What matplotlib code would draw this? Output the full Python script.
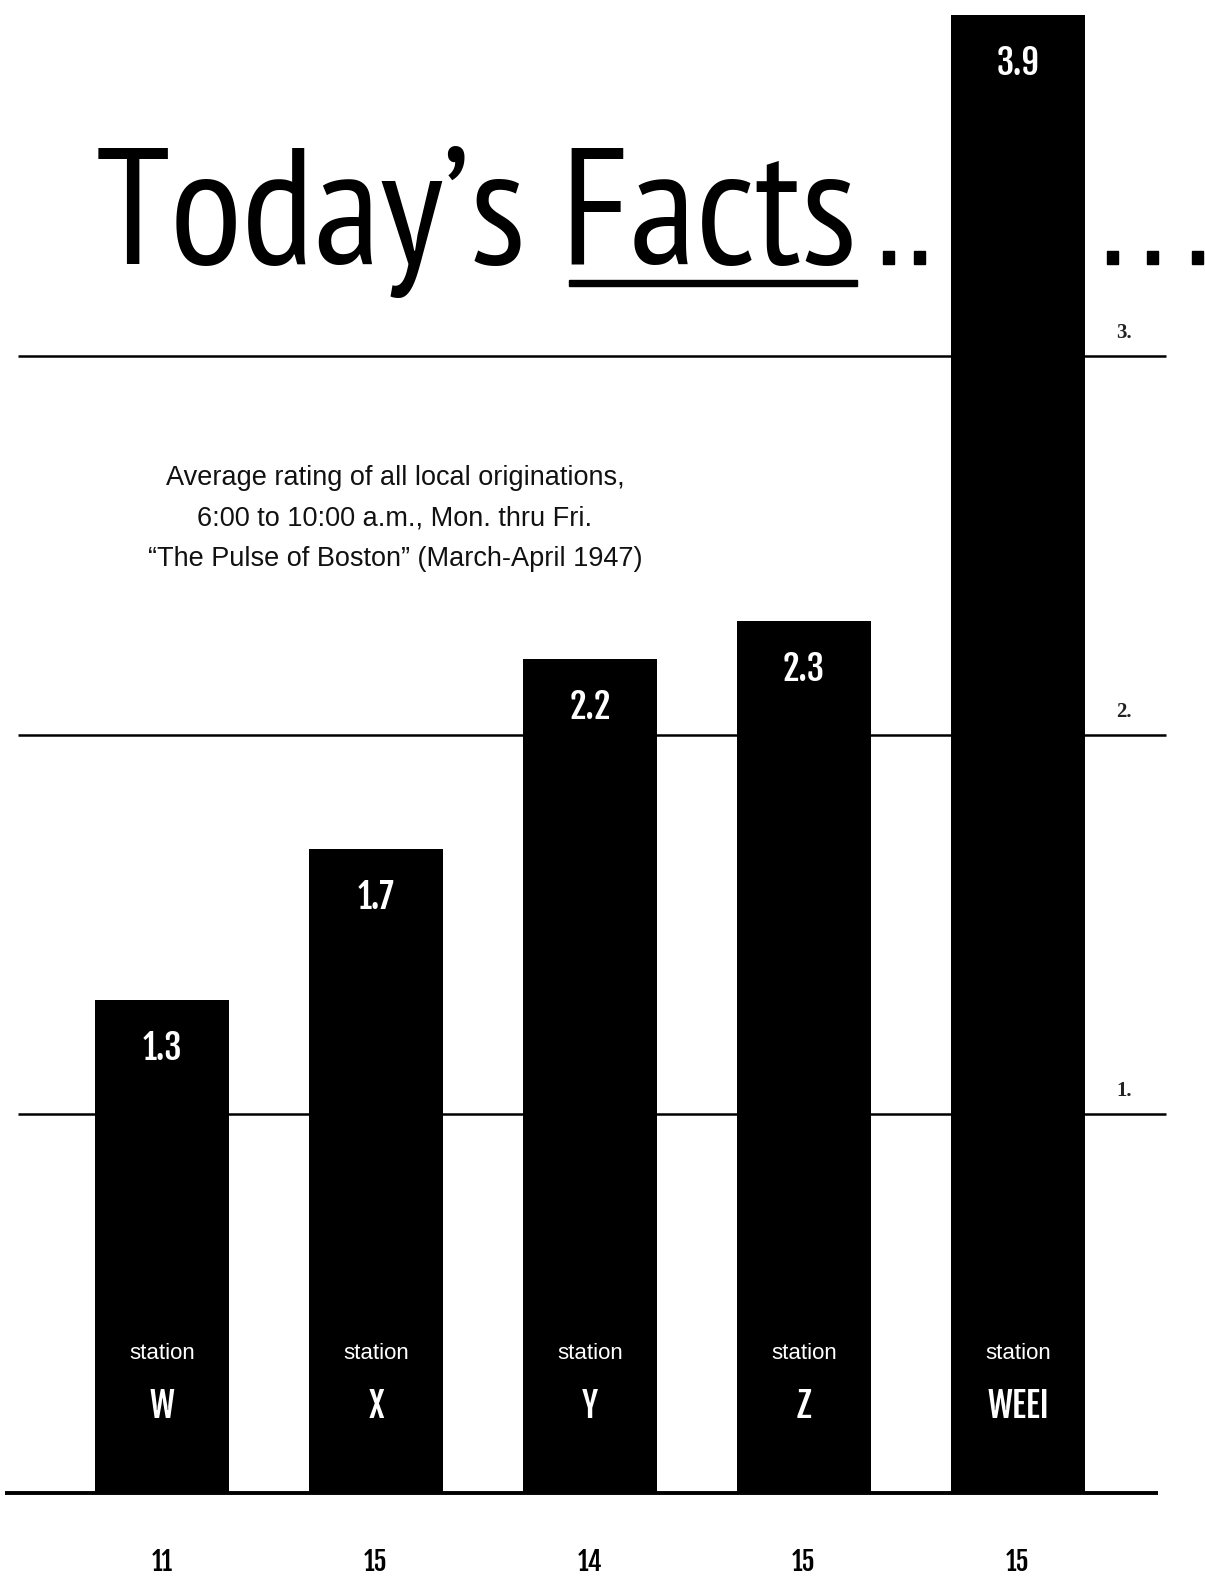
import matplotlib
matplotlib.use('Agg')
import matplotlib.pyplot as plt
from matplotlib.patches import Rectangle

# data
stations = ['W', 'X', 'Y', 'Z', 'WEEI']
ratings = [1.3, 1.7, 2.2, 2.3, 3.9]
value_labels = ['1.3', '1.7', '2.2', '2.3', '3.9']
bottom_counts = ['11', '15', '14', '15', '15']
grid_values = [1, 2, 3]
grid_labels = ['1.', '2.', '3.']
subtitle_lines = ['Average rating of all local originations,',
                  '6:00 to 10:00 a.m., Mon. thru Fri.',
                  '\u201cThe Pulse of Boston\u201d (March-April 1947)']

W, H = 1205, 1580
TITLE = ['PT Sans Narrow', 'Roboto Condensed', 'DejaVu Sans']
BOLD_COND = ['Fjalla One', 'Oswald', 'Roboto Condensed', 'DejaVu Sans']
GOTHIC = ['Liberation Sans', 'DejaVu Sans']
SERIF = ['Liberation Serif', 'DejaVu Serif']

fig = plt.figure(figsize=(W / 100, H / 100), dpi=100)
fig.patch.set_facecolor('white')
ax = fig.add_axes([0, 0, 1, 1])
ax.axis('off')

# pixel <-> data mapping: bar i centred at 162 + 214*i px, baseline at 1493 px, 379 px per unit
x0, dx = 162, 214
y0, dy = 1493, 379
ax.set_xlim(-x0 / dx, (W - x0) / dx)
ax.set_ylim(-(H - y0) / dy, y0 / dy)


def px_x(p):
    return (p - x0) / dx


def fit_width(txt, target):
    # scale the font so the rendered text is `target` pixels wide
    fig.canvas.draw()
    w = txt.get_window_extent(fig.canvas.get_renderer()).width
    return txt.get_fontsize() * target / w


# gridlines behind the bars
ax.hlines(grid_values, px_x(18), px_x(1166), color='black', lw=1.8, zorder=1)
ax.hlines(0, px_x(5), px_x(1158), color='black', lw=2.8, zorder=1)
for g, lab in zip(grid_values, grid_labels):
    ax.annotate(lab, xy=(px_x(1124), g), xytext=(0, 9), textcoords='offset points',
                ha='center', va='bottom', fontsize=15, fontweight='bold',
                family=SERIF, color='#222222')

# bars
xs = list(range(len(stations)))
ax.bar(xs, ratings, width=0.63, color='black', zorder=2)

for i, (v, lab) in enumerate(zip(ratings, value_labels)):
    ax.annotate(lab, xy=(i, v), xytext=(0, -35), textcoords='offset points',
                ha='center', va='center', fontsize=25,
                family=BOLD_COND, color='white', zorder=3)
    ax.text(i, 0.369, 'station', ha='center', va='center', fontsize=16,
            family=GOTHIC, color='white', zorder=3)
    ax.text(i, 0.228, stations[i], ha='center', va='center', fontsize=25,
            family=BOLD_COND, color='white', zorder=3)
    ax.text(i, -0.182, bottom_counts[i], ha='center', va='center', fontsize=19,
            family=BOLD_COND, color='black')

# title, fitted to its width in the reference
title = fig.text(96 / W, 1 - 264 / H, 'Today\u2019s Facts', ha='left', va='baseline',
                 fontsize=110, family=TITLE, color='black')
title.set_fontsize(fit_width(title, 760))

# underline under "Facts"
fig.add_artist(Rectangle((569 / W, 1 - 286 / H), 288 / W, 6 / H,
                         transform=fig.transFigure, color='black'))
# leader dots
for px in [889, 919, 1112, 1152, 1197]:
    fig.add_artist(Rectangle(((px - 5.5) / W, 1 - 264 / H), 11 / W, 13 / H,
                             transform=fig.transFigure, color='black', zorder=0))

# subtitle
sub = []
for k, line in enumerate(subtitle_lines):
    sub.append(fig.text(395 / W, 1 - (478 + 40.5 * k) / H, line, ha='center',
                        va='center', fontsize=18, family=GOTHIC, color='#111111'))
fs = fit_width(sub[0], 458)
for t in sub:
    t.set_fontsize(fs)

fig.savefig('out.png', dpi=100, facecolor='white')
